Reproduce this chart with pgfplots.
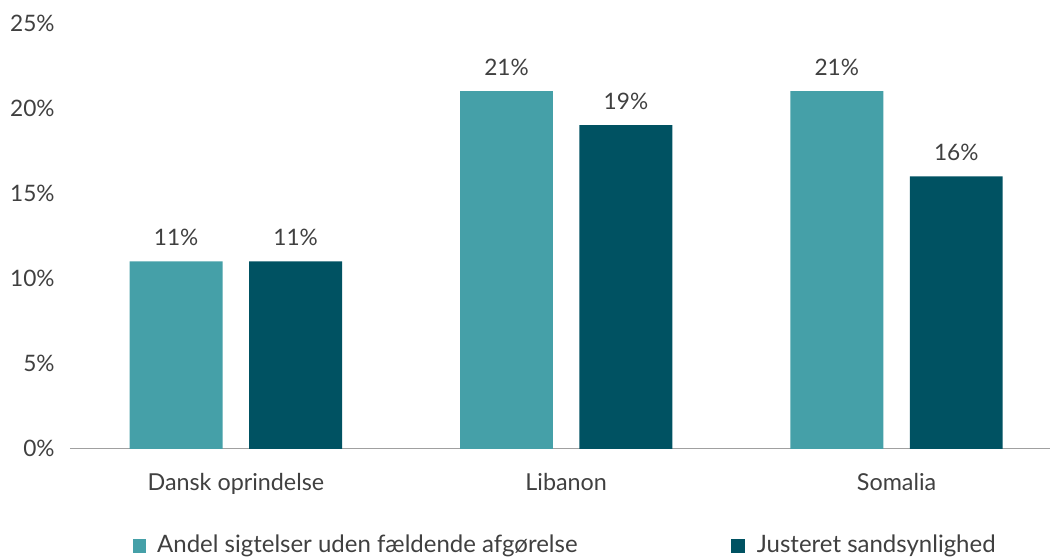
\documentclass[border=0pt]{standalone}
\usepackage{pgfplots}
\pgfplotsset{compat=1.18}
\usepackage{fontspec}
\setmainfont{Lato}
\definecolor{teal1}{HTML}{45A0A8}
\definecolor{dark1}{HTML}{005262}
\definecolor{txt}{HTML}{404040}
\definecolor{axgray}{HTML}{A0A0A0}
\begin{document}
\begin{tikzpicture}[x=0.75pt,y=0.75pt]
\begin{axis}[
  scale only axis, width=735.75pt, height=319.5pt,
  xmin=-0.5023, xmax=2.466, ymin=0, ymax=25,
  axis lines*=left,
  x axis line style={draw=axgray, line width=0.8pt, -},
  y axis line style={draw=none, -},
  xtick={0,1,2}, xticklabels={Dansk oprindelse,Libanon,Somalia},
  major tick length=0pt,
  xticklabel style={font=\fontsize{17.5}{20}\selectfont, text=txt, yshift=-15pt},
  ytick={0,5,10,15,20,25},
  yticklabel={\pgfmathprintnumber{\tick}\%},
  yticklabel style={font=\fontsize{17}{20}\selectfont, text=txt, anchor=east, xshift=-8pt},
  /pgf/number format/assume math mode=true,
  ybar, bar width=0.2814,
  nodes near coords={\pgfmathprintnumber{\pgfplotspointmeta}\%},
  every node near coord/.append style={font=\fontsize{17}{20}\selectfont, text=txt, yshift=8.25pt},
  clip=false,
]
\addplot[fill=teal1, draw=none, bar shift=-0.1808] coordinates {(0,11) (1,21) (2,21)};
\addplot[fill=dark1, draw=none, bar shift=0.1808] coordinates {(0,11) (1,19) (2,16)};
\coordinate (O) at (axis cs:-0.5023,0);
\end{axis}
\begin{scope}[shift={(O)}]
\useasboundingbox (-70,-111) rectangle (981,449);
\fill[teal1] (63,-104) rectangle (76,-90);
\node[anchor=west, text=txt, font=\fontsize{18}{21}\selectfont, inner sep=0pt] at (87,-97) {Andel sigtelser uden fældende afgørelse};
\fill[dark1] (661,-104) rectangle (675,-90);
\node[anchor=west, text=txt, font=\fontsize{18}{21}\selectfont, inner sep=0pt] at (687,-97) {Justeret sandsynlighed};
\end{scope}
\end{tikzpicture}
\end{document}
